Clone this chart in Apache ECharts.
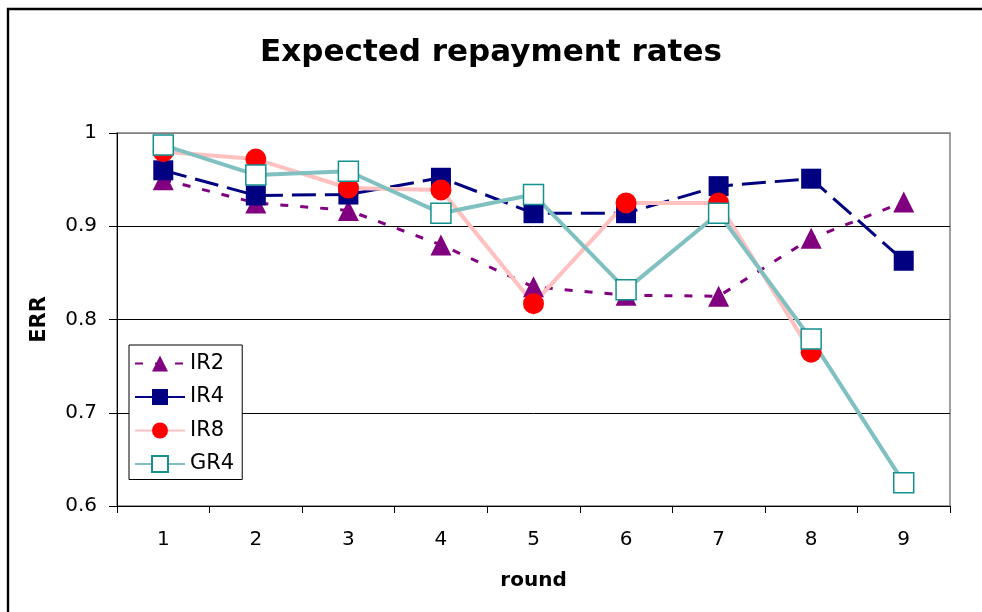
<!DOCTYPE html>
<html>
<head>
<meta charset="utf-8">
<script src="https://cdn.jsdelivr.net/npm/echarts@6/dist/echarts.min.js"></script>
<style>
  html, body { margin: 0; padding: 0; background: #fff; }
  #chart { width: 982px; height: 612px; }
</style>
</head>
<body>
<div id="chart"></div>
<script>
// rounds on the x axis
const rounds = ['1', '2', '3', '4', '5', '6', '7', '8', '9'];
// expected repayment rate per series
const ir2 = [0.950, 0.925, 0.917, 0.880, 0.835, 0.826, 0.825, 0.887, 0.926];
const ir4 = [0.960, 0.933, 0.934, 0.952, 0.914, 0.914, 0.943, 0.951, 0.863];
const ir8 = [0.980, 0.972, 0.941, 0.939, 0.817, 0.925, 0.925, 0.765, null];
const gr4 = [0.987, 0.955, 0.959, 0.914, 0.934, 0.832, 0.914, 0.779, 0.625];
const yTicks = [0.6, 0.7, 0.8, 0.9, 1];

const font = 'DejaVu Sans, Verdana, sans-serif';
const myChart = echarts.init(document.getElementById('chart'));

const option = {
  animation: false,
  backgroundColor: '#fff',
  textStyle: { fontFamily: font },
  graphic: [{
    type: 'rect',
    shape: { x: 8, y: 9, width: 1100, height: 800 },
    style: { fill: 'none', stroke: '#000', lineWidth: 2.4 },
    silent: true
  }],
  title: {
    text: 'Expected repayment rates',
    left: 'center',
    top: 32,
    textStyle: { fontFamily: font, fontSize: 31, fontWeight: 'bold', color: '#000' }
  },
  legend: {
    orient: 'vertical',
    left: 129,
    top: 345,
    padding: [8, 8, 5, 5],
    itemWidth: 50,
    itemHeight: 20,
    itemGap: 12.5,
    backgroundColor: '#fff',
    borderColor: '#000',
    borderWidth: 1,
    textStyle: { fontFamily: font, fontSize: 21, color: '#000' },
    data: ['IR2', 'IR4', 'IR8', 'GR4']
  },
  grid: {
    left: 117, top: 133, right: 32, bottom: 106,
    show: true, borderColor: '#808080', borderWidth: 1.5
  },
  xAxis: {
    type: 'category',
    data: rounds,
    boundaryGap: true,
    name: 'round',
    nameLocation: 'middle',
    nameGap: 65,
    nameTextStyle: { fontFamily: font, fontSize: 20, fontWeight: 'bold', color: '#000' },
    axisLine: { lineStyle: { color: '#000', width: 1 } },
    axisTick: { show: true, length: 7, lineStyle: { color: '#000' } },
    axisLabel: { margin: 24, fontSize: 20, color: '#000', fontFamily: font }
  },
  yAxis: {
    type: 'value',
    min: 0.6,
    max: 1,
    interval: 0.1,
    name: 'ERR',
    nameLocation: 'middle',
    nameGap: 67,
    nameTextStyle: { fontFamily: font, fontSize: 21, fontWeight: 'bold', color: '#000' },
    axisLine: { show: true, lineStyle: { color: '#000', width: 1 } },
    axisTick: { show: true, length: 8, lineStyle: { color: '#000' } },
    axisLabel: {
      margin: 20, fontSize: 20, color: '#000', fontFamily: font,
      formatter: function (v) {
        const t = yTicks.find(function (x) { return Math.abs(x - v) < 1e-6; });
        return t === undefined ? '' : String(t);
      }
    },
    splitLine: {
      show: true,
      lineStyle: { color: ['#000', '#000', '#000', '#000', '#808080'], width: 1 }
    }
  },
  series: [
    {
      name: 'IR2', type: 'line', data: ir2,
      symbol: 'triangle', symbolSize: 21,
      itemStyle: { color: '#800080' },
      lineStyle: { color: '#800080', width: 3, type: [8, 12] }
    },
    {
      name: 'IR4', type: 'line', data: ir4,
      symbol: 'rect', symbolSize: 20,
      itemStyle: { color: '#000080' },
      lineStyle: { color: '#000080', width: 3, type: [24, 9] }
    },
    {
      name: 'IR8', type: 'line', data: ir8,
      symbol: 'circle', symbolSize: 21,
      itemStyle: { color: '#ff0000' },
      lineStyle: { color: '#ffc0c0', width: 4 }
    },
    {
      name: 'GR4', type: 'line', data: gr4,
      symbol: 'rect', symbolSize: 20,
      itemStyle: { color: '#fff', borderColor: '#149090', borderWidth: 1.5 },
      lineStyle: { color: '#80c0c0', width: 4 }
    }
  ]
};

myChart.setOption(option);
</script>
</body>
</html>
